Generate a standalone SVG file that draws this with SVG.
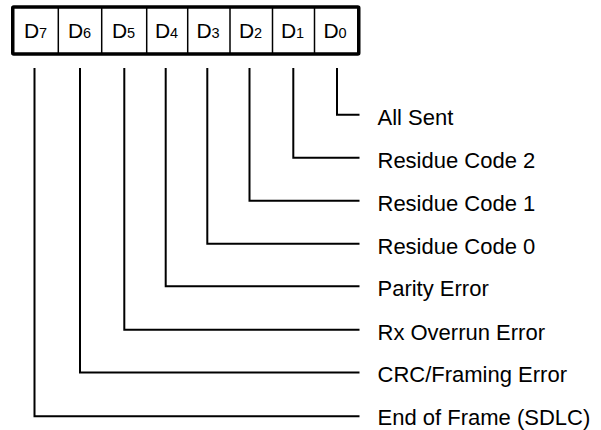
<svg xmlns="http://www.w3.org/2000/svg" width="601" height="430" viewBox="0 0 601 430">
<style>
.bit{font-family:"Liberation Sans",Arial,sans-serif;font-size:21px;fill:#000;text-anchor:middle}
.sub{font-size:14.5px}
.lbl{font-family:"Liberation Sans",Arial,sans-serif;font-size:22px;fill:#000}
.div{stroke:#000;stroke-width:1.5}
.wire{fill:none;stroke:#000;stroke-width:2}
</style>
<rect width="601" height="430" fill="#fff"/>
<g id="register">
<rect x="12.75" y="7" width="346" height="47" fill="#fff" stroke="#000" stroke-width="3.5" rx="1"/>
<line class="div" x1="58.3" y1="8" x2="58.3" y2="53"/>
<line class="div" x1="101.7" y1="8" x2="101.7" y2="53"/>
<line class="div" x1="146.7" y1="8" x2="146.7" y2="53"/>
<line class="div" x1="187.7" y1="8" x2="187.7" y2="53"/>
<line class="div" x1="230" y1="8" x2="230" y2="53"/>
<line class="div" x1="272.5" y1="8" x2="272.5" y2="53"/>
<line class="div" x1="314.5" y1="8" x2="314.5" y2="53"/>
<text class="bit" x="35.5" y="38">D<tspan class="sub">7</tspan></text>
<text class="bit" x="79.5" y="38">D<tspan class="sub">6</tspan></text>
<text class="bit" x="123.5" y="38">D<tspan class="sub">5</tspan></text>
<text class="bit" x="166.5" y="38">D<tspan class="sub">4</tspan></text>
<text class="bit" x="208" y="38">D<tspan class="sub">3</tspan></text>
<text class="bit" x="250.5" y="38">D<tspan class="sub">2</tspan></text>
<text class="bit" x="292.5" y="38">D<tspan class="sub">1</tspan></text>
<text class="bit" x="335" y="38">D<tspan class="sub">0</tspan></text>
</g>
<g id="connectors">
<path class="wire" d="M337 68V114.8H359.5"/>
<path class="wire" d="M293.3 68V157.8H359.5"/>
<path class="wire" d="M249.5 68V200.8H359.5"/>
<path class="wire" d="M207.3 68V243.8H359.5"/>
<path class="wire" d="M165.7 68V286.3H359.5"/>
<path class="wire" d="M124.3 68V329.8H359.5"/>
<path class="wire" d="M80 68V372.5H359.5"/>
<path class="wire" d="M34.5 68V416.3H359.5"/>
</g>
<g id="label-d0"><text class="lbl" x="377.5" y="125">All Sent</text></g>
<g id="label-d1"><text class="lbl" x="377.5" y="168">Residue Code 2</text></g>
<g id="label-d2"><text class="lbl" x="377.5" y="211">Residue Code 1</text></g>
<g id="label-d3"><text class="lbl" x="377.5" y="254">Residue Code 0</text></g>
<g id="label-d4"><text class="lbl" x="377.5" y="295.5">Parity Error</text></g>
<g id="label-d5"><text class="lbl" x="377.5" y="340">Rx Overrun Error</text></g>
<g id="label-d6"><text class="lbl" x="377.5" y="382">CRC/Framing Error</text></g>
<g id="label-d7"><text class="lbl" x="377.5" y="425">End of Frame (SDLC)</text></g>
</svg>
